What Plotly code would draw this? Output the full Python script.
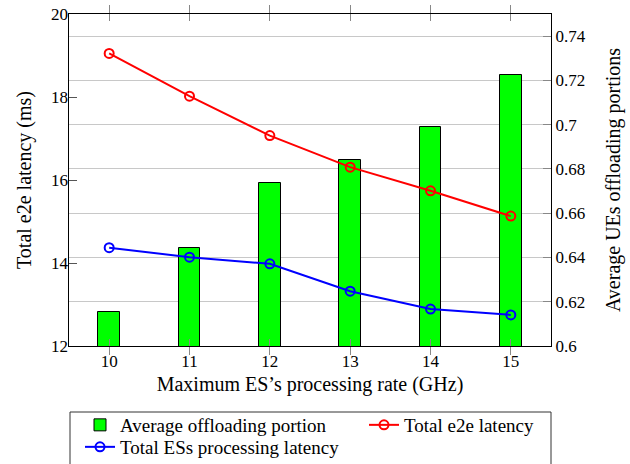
import plotly.graph_objects as go

rates = [10, 11, 12, 13, 14, 15]
offload_portion = [0.6155, 0.6443, 0.6736, 0.6839, 0.6989, 0.7224]
e2e_latency = [19.05, 18.02, 17.07, 16.31, 15.74, 15.13]
es_proc_latency = [14.37, 14.14, 13.98, 13.32, 12.89, 12.75]

left_ticks = [12, 14, 16, 18, 20]
right_ticks = [0.6, 0.62, 0.64, 0.66, 0.68, 0.7, 0.72, 0.74]
right_ticktext = ["0.6", "0.62", "0.64", "0.66", "0.68", "0.7", "0.72", "0.74"]

FONT = "Liberation Serif"
tf = dict(family=FONT, size=17, color="black")
ttl = dict(family=FONT, size=20, color="black")
lf = dict(family=FONT, size=19, color="black")

W, H = 630, 464
ML, MR, MT, MB = 69, 79, 14, 118
PW, PH = W - ML - MR, H - MT - MB

def px_x(px):
    return (px - ML) / PW

def px_y(py):
    return (H - MB - py) / PH

fig = go.Figure()
fig.add_trace(go.Bar(
    x=rates, y=offload_portion, name="Average offloading portion",
    xaxis="x", yaxis="y", width=0.27, legend="legend",
    marker=dict(color="#00ff00", line=dict(color="black", width=1)),
))
fig.add_trace(go.Scatter(
    x=rates, y=e2e_latency, name="Total e2e latency", mode="lines+markers",
    xaxis="x", yaxis="y2", legend="legend2",
    line=dict(color="#ff0000", width=2),
    marker=dict(symbol="circle-open", size=9, color="#ff0000", line=dict(width=2)),
))
fig.add_trace(go.Scatter(
    x=rates, y=es_proc_latency, name="Total ESs processing latency", mode="lines+markers",
    xaxis="x2", yaxis="y2", legend="legend3",
    line=dict(color="#0000ff", width=2),
    marker=dict(symbol="circle-open", size=9, color="#0000ff", line=dict(width=2)),
))

leg_common = dict(orientation="v", xanchor="left", yanchor="top", borderwidth=0,
                  font=lf, bgcolor="rgba(0,0,0,0)")

fig.update_layout(
    template="none",
    width=W, height=H,
    margin=dict(l=ML, r=MR, t=MT, b=MB, autoexpand=False),
    paper_bgcolor="white", plot_bgcolor="white",
    font=tf,
    showlegend=True,
    xaxis=dict(
        range=[9.5, 15.5], tickvals=rates, ticks="inside", ticklen=7,
        tickcolor="#888888", mirror="ticks", showline=True, linecolor="black",
        linewidth=1, showgrid=False, zeroline=False, tickfont=tf,
        title=dict(text="Maximum ES’s processing rate (GHz)", standoff=6, font=ttl),
    ),
    xaxis2=dict(
        range=[9.5, 15.5], overlaying="x", anchor="y2", side="bottom",
        tickvals=rates, ticks="outside", ticklen=8, tickcolor="#888888",
        mirror="ticks", showticklabels=False, showgrid=False, zeroline=False,
        showline=False,
    ),
    yaxis=dict(
        range=[0.6, 0.75], side="right", anchor="x",
        tickvals=right_ticks, ticktext=right_ticktext, ticks="inside",
        ticklen=8, tickcolor="#888888", showgrid=True, gridcolor="#c8c8c8",
        gridwidth=1, zeroline=False, showline=True, linecolor="black",
        linewidth=1, mirror=True, tickfont=tf,
        title=dict(text="Average UEs offloading portions", standoff=21, font=ttl),
    ),
    yaxis2=dict(
        range=[12, 20], overlaying="y", side="left", anchor="x",
        tickvals=left_ticks, ticks="inside", ticklen=8,
        tickcolor="#555555", showline=False, showgrid=False, zeroline=False,
        tickfont=tf,
        title=dict(text="Total e2e latency (ms)", standoff=14, font=ttl),
    ),
    legend=dict(x=px_x(80), y=px_y(406), **leg_common),
    legend2=dict(x=px_x(364), y=px_y(406), **leg_common),
    legend3=dict(x=px_x(80), y=px_y(428), **leg_common),
    shapes=[dict(
        type="rect", xref="paper", yref="paper",
        x0=px_x(70), x1=px_x(551), y0=px_y(470), y1=px_y(412),
        line=dict(color="#333333", width=1), fillcolor="rgba(0,0,0,0)",
    )],
    bargap=0,
)

fig.write_html("out.html")
